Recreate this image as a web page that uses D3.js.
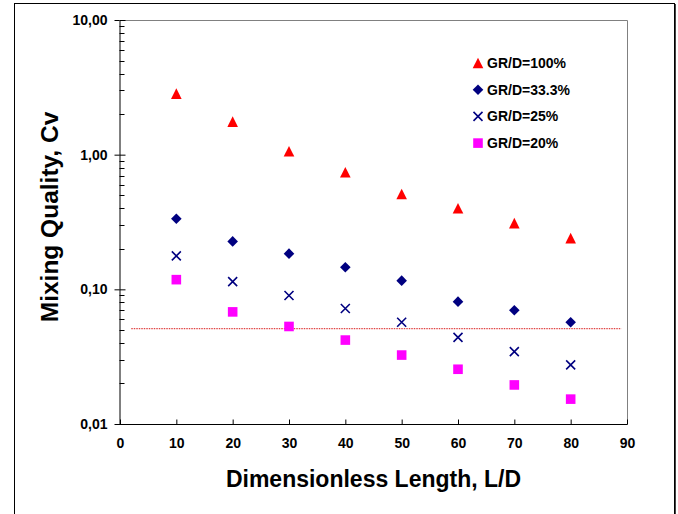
<!DOCTYPE html>
<html><head><meta charset="utf-8">
<script src="https://cdn.jsdelivr.net/npm/d3@7"></script>
<style>
body{margin:0;background:#fff}
svg{display:block}
text{font-family:Arial,"Liberation Sans",sans-serif;font-weight:bold;fill:#000}
</style>
</head><body>
<svg id="c" width="678" height="514"></svg>
<script>
// ---- data ----
const xValues = [10, 20, 30, 40, 50, 60, 70, 80];
const seriesNames = ["GR/D=100%", "GR/D=33.3%", "GR/D=25%", "GR/D=20%"];
const gr100 = [2.84, 1.76, 1.06, 0.74, 0.51, 0.40, 0.31, 0.24];
const gr333 = [0.334, 0.227, 0.184, 0.146, 0.116, 0.081, 0.070, 0.057];
const gr25  = [0.177, 0.114, 0.090, 0.072, 0.057, 0.044, 0.0345, 0.0275];
const gr20  = [0.118, 0.068, 0.053, 0.042, 0.0325, 0.0255, 0.0195, 0.0153];
const refLineX = [2, 89];
const refLineY = 0.051;
const xTicks = [0, 10, 20, 30, 40, 50, 60, 70, 80, 90];
const yTicks = [0.01, 0.1, 1, 10];
const xTitle = "Dimensionless Length, L/D";
const yTitle = "Mixing Quality, Cv";

// ---- layout ----
const svg = d3.select("#c");
const L = 120, R = 627, T = 20, B = 424;
const x = d3.scaleLinear().domain([0, 90]).range([L, R]);
const y = d3.scaleLog().domain([0.01, 10]).range([B, T]);
const fmt = v => d3.format(".2f")(v).replace(".", ",");

// outer frame
svg.append("rect").attr("x", 14.5).attr("y", 3.5).attr("width", 660).attr("height", 520)
  .attr("fill", "none").attr("stroke", "#000").attr("stroke-width", 1);
svg.append("line").attr("x1", 675.5).attr("x2", 675.5).attr("y1", 4).attr("y2", 514)
  .attr("stroke", "#444").attr("stroke-width", 1);

// plot frame (top/right gray)
svg.append("path").attr("d", `M${L},${T + 0.5}H${R + 0.5}V${B}`)
  .attr("fill", "none").attr("stroke", "#808080").attr("stroke-width", 1);

// y axis
const gy = svg.append("g").attr("transform", `translate(${L - 0.5},0)`)
  .call(d3.axisLeft(y).tickValues(yTicks).tickFormat(fmt).tickSize(5).tickPadding(7).tickSizeOuter(0));
gy.selectAll("text").style("font-size", "14px");
gy.select(".domain").attr("stroke", "#000");
gy.selectAll(".tick").append("line").attr("x1", 0).attr("x2", 6).attr("stroke", "#000");
const minor = [];
[0.01, 0.1, 1].forEach(d => { for (let k = 2; k <= 9; k++) minor.push(d * k); });
gy.selectAll(".minor").data(minor).enter().append("line").attr("class", "minor")
  .attr("x1", 0).attr("x2", 5)
  .attr("y1", d => Math.round(y(d)) + 0.5).attr("y2", d => Math.round(y(d)) + 0.5)
  .attr("stroke", "#000");

// x axis
const gx = svg.append("g").attr("transform", `translate(0,${B + 0.5})`)
  .call(d3.axisBottom(x).tickValues(xTicks).tickSize(0).tickPadding(14).tickSizeOuter(0));
gx.selectAll("text").style("font-size", "14px");
gx.select(".domain").attr("stroke", "#000").attr("d", `M${L - 5},0H${R + 0.5}`);
gx.selectAll(".tick").append("line").attr("y1", 0).attr("y2", -5).attr("stroke", "#000");

// axis titles
svg.append("text").attr("x", (L + R) / 2).attr("y", 487).attr("text-anchor", "middle")
  .style("font-size", "23px").text(xTitle);
svg.append("text").attr("transform", "translate(58,217) rotate(-90)").attr("text-anchor", "middle")
  .style("font-size", "24.5px").text(yTitle);

// reference line
svg.append("line")
  .attr("x1", x(refLineX[0])).attr("x2", x(refLineX[1]))
  .attr("y1", y(refLineY)).attr("y2", y(refLineY))
  .attr("stroke", "#d81818").attr("stroke-width", 1).attr("stroke-dasharray", "1.5,1");

// marker shapes
const shapes = {
  tri: "M0,-5.3L5.3,5.3L-5.3,5.3Z",
  dia: "M0,-5.3L5.3,0L0,5.3L-5.3,0Z",
  sq: "M-4.8,-4.8H4.8V4.8H-4.8Z",
  x: "M-4.5,-4.5L4.5,4.5M4.5,-4.5L-4.5,4.5"
};
const series = [
  { name: seriesNames[0], values: gr100, shape: "tri", color: "#ff0000", stroke: false },
  { name: seriesNames[1], values: gr333, shape: "dia", color: "#000080", stroke: false },
  { name: seriesNames[2], values: gr25, shape: "x", color: "#000080", stroke: true },
  { name: seriesNames[3], values: gr20, shape: "sq", color: "#ff00ff", stroke: false }
];
function styleMarker(sel, s) {
  sel.attr("d", shapes[s.shape]);
  if (s.stroke) sel.attr("fill", "none").attr("stroke", s.color).attr("stroke-width", 1.6);
  else sel.attr("fill", s.color);
}
series.forEach(s => {
  svg.append("g").selectAll("path").data(s.values).enter().append("path")
    .attr("transform", (d, i) => `translate(${x(xValues[i])},${y(d)})`)
    .call(sel => styleMarker(sel, s));
});

// legend
const lg = svg.append("g");
series.forEach((s, i) => {
  const cy = 63 + i * 26.7;
  lg.append("path").attr("transform", `translate(478,${cy})`).call(sel => styleMarker(sel, s));
  lg.append("text").attr("x", 487).attr("y", cy).attr("dy", "0.36em")
    .style("font-size", "14px").text(s.name);
});
</script>
</body></html>
